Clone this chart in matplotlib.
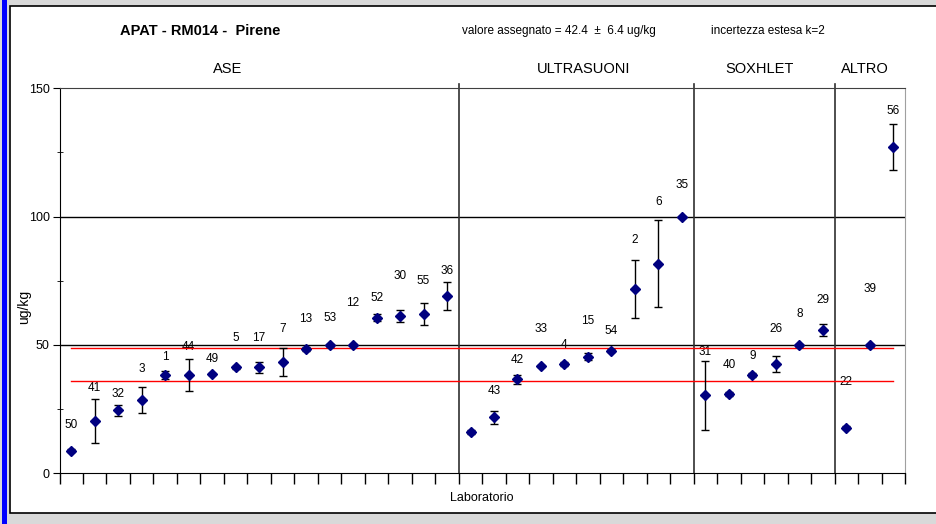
import matplotlib
matplotlib.use('Agg')
import matplotlib.pyplot as plt
from matplotlib.patches import Rectangle

plt.rcParams['font.family'] = ['Liberation Sans', 'DejaVu Sans']

# laboratori in ordine di grafico
labs = ['50', '41', '32', '3', '1', '44', '49', '5', '17', '7', '13', '53', '12', '52', '30', '55', '36',
        '', '43', '42', '33', '4', '15', '54', '2', '6', '35',
        '31', '40', '9', '26', '8', '29',
        '22', '39', '56']
vals = [8.8, 20.5, 24.5, 28.5, 38.2, 38.2, 38.7, 41.3, 41.3, 43.4, 48.4, 49.9, 50.0, 60.6, 61.4, 62.0, 69.1,
        16.1, 21.8, 36.6, 41.8, 42.6, 45.4, 47.8, 71.8, 81.7, 99.8,
        30.4, 31.0, 38.2, 42.6, 49.9, 55.9,
        17.8, 49.9, 127.0]
errs = [0.5, 8.5, 2.0, 5.2, 1.6, 6.2, 0.5, 0.7, 2.2, 5.5, 0.8, 0.5, 0.5, 1.3, 2.4, 4.3, 5.6,
        0.8, 2.5, 1.8, 0.5, 0.6, 1.3, 0.5, 11.4, 17.0, 0.5,
        13.4, 0.8, 0.8, 3.0, 0.5, 2.4,
        0.7, 0.5, 9.0]
# altezza delle etichette (ug/kg)
label_y = [18.8, 33.2, 30.8, 40.5, 45.2, 49.1, 44.4, 52.6, 52.6, 56.2, 60.1, 60.4, 66.5, 68.2, 76.9, 75.0, 78.9,
           0, 32.1, 44.0, 56.1, 50.0, 59.3, 55.3, 90.8, 105.6, 112.2,
           47.4, 42.1, 45.7, 56.1, 61.9, 67.5,
           35.6, 71.8, 141.1]

groups = ['ASE', 'ULTRASUONI', 'SOXHLET', 'ALTRO']
group_sizes = [17, 10, 6, 3]

assigned = 42.4
unc = 6.4

W, H = 937, 524
fig = plt.figure(figsize=(W / 100, H / 100), dpi=100)
fig.patch.set_facecolor('#d9d9d9')
fig.patches.append(Rectangle((10 / W, 1 - 513 / H), 1, (513 - 6) / H, transform=fig.transFigure,
                             facecolor='white', edgecolor='black', lw=1.2, zorder=-3))
fig.patches.append(Rectangle((2 / W, 0), 5 / W, 1, transform=fig.transFigure,
                             facecolor='#0000ff', edgecolor='none', zorder=-2))

ax = fig.add_axes([59.5 / W, 1 - 473.3 / H, (905 - 59.5) / W, (473.3 - 88.3) / H])
ax.set_zorder(3)
ax.set_facecolor('white')
n = len(vals)
x = [i + 0.5 for i in range(n)]

ax.errorbar(x, vals, yerr=errs, fmt='D', color='#000080', ms=5, ecolor='black',
            elinewidth=1, capsize=3, capthick=1, zorder=5)
for xi, lab, ly in zip(x, labs, label_y):
    if lab:
        ax.text(xi, ly, lab, ha='center', va='center', fontsize=8.5)

# valore assegnato +/- incertezza
ax.plot([x[0], x[-1]], [assigned + unc] * 2, color='red', lw=1, zorder=3)
ax.plot([x[0], x[-1]], [assigned - unc] * 2, color='red', lw=1, zorder=3)

ax.set_xlim(0, n)
ax.set_ylim(0, 150)
ax.set_yticks([0, 50, 100, 150])
ax.set_yticks([25, 75, 125], minor=True)
ax.set_xticks(range(n + 1))
ax.set_xticklabels([])
ax.tick_params(axis='x', length=8, width=1, direction='out')
ax.tick_params(axis='y', which='major', length=5, labelsize=9, pad=2)
ax.tick_params(axis='y', which='minor', length=4, direction='inout')
for yv in [50, 100]:
    ax.axhline(yv, color='black', lw=1, zorder=2)
for s in ['left', 'bottom']:
    ax.spines[s].set_color('black')
ax.spines['top'].set_color('#404040')
ax.spines['right'].set_color('#a0a0a0')

# separatori dei gruppi
b = 0
for sz in group_sizes[:-1]:
    b += sz
    ax.plot([b, b], [0, 151.5], color='#303030', lw=1.2, clip_on=False, zorder=2)

group_x = [7.15, 22.3, 29.8, 34.3]
for gx, g in zip(group_x, groups):
    ax.text(gx, 157.5, g, ha='center', va='center', fontsize=10.5)

ax.set_xlabel('Laboratorio', fontsize=9, labelpad=2)
fig.text(24 / W, 1 - 307 / H, 'ug/kg', rotation=90, ha='center', va='center', fontsize=10)

fig.text(120 / W, 1 - 31 / H, 'APAT - RM014 -  Pirene', fontsize=10.5, fontweight='bold', va='center')
fig.text(462 / W, 1 - 31 / H, 'valore assegnato = 42.4  \u00b1  6.4 ug/kg', fontsize=8.5, va='center')
fig.text(711 / W, 1 - 31 / H, 'incertezza estesa k=2', fontsize=8.5, va='center')

fig.savefig('out.png', dpi=100, facecolor=fig.get_facecolor())
